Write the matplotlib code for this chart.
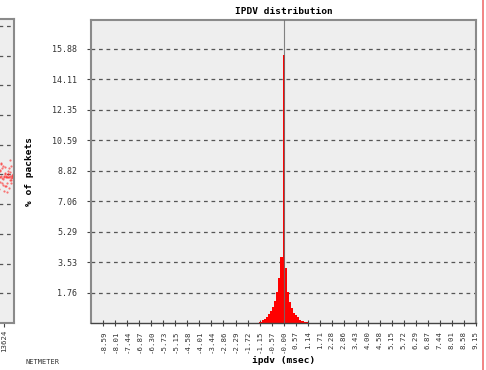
import numpy as np
import matplotlib.pyplot as plt

# histogram of ipdv values (msec) -> % of packets
bin_centers = [-1.1, -1.0, -0.9, -0.8, -0.7, -0.6, -0.5, -0.4, -0.3, -0.2, -0.1, 0.0,
               0.1, 0.2, 0.3, 0.4, 0.5, 0.6, 0.7, 0.8, 0.9, 1.0, 1.1]
pct_packets = [0.05, 0.15, 0.25, 0.35, 0.5, 0.7, 0.95, 1.3, 1.8, 2.6, 3.8, 15.5,
               3.2, 1.8, 1.2, 0.85, 0.6, 0.45, 0.35, 0.2, 0.12, 0.07, 0.03]
bin_width = 0.1

y_ticks = [1.76, 3.53, 5.29, 7.06, 8.82, 10.59, 12.35, 14.11, 15.88]
x_tick_labels = ['-8.59', '-8.01', '-7.44', '-6.87', '-6.30', '-5.73', '-5.15', '-4.58',
                 '-4.01', '-3.44', '-2.86', '-2.29', '-1.72', '-1.15', '-0.57', '-0.00',
                 '0.57', '1.14', '1.71', '2.28', '2.86', '3.43', '4.00', '4.58',
                 '5.15', '5.72', '6.29', '6.87', '7.44', '8.01', '8.58', '9.15']
x_step = 9.15 / 16

# neighbouring panel (only its right edge is visible)
left_x = [13560, 13580, 13600, 13615, 13630, 13650, 13670, 13690, 13705, 13720,
          13570, 13595, 13620, 13640, 13660, 13680, 13700, 13715, 13735, 13590,
          13610, 13635, 13655, 13675, 13695, 13710, 13725, 13585, 13645, 13685,
          13565, 13605, 13625, 13665, 13698, 13730, 13578, 13652, 13690, 13712,
          13575, 13618, 13642, 13668, 13702, 13740, 13598, 13632, 13672, 13722]
left_y = [4.9, 5.1, 4.7, 5.3, 4.9, 4.6, 5.0, 5.2, 4.8, 4.95,
          4.5, 5.4, 4.85, 5.05, 4.4, 4.9, 5.5, 4.7, 5.0, 4.95,
          5.2, 4.6, 4.9, 5.1, 4.8, 5.3, 4.9, 4.75, 5.0, 4.55,
          4.92, 4.88, 4.95, 4.9, 4.93, 4.87, 4.9, 4.96, 4.91, 4.89,
          5.15, 4.65, 5.25, 4.72, 5.08, 4.8, 5.35, 4.45, 5.02, 4.98]

W, H = 486, 370
fig = plt.figure(figsize=(W / 100, H / 100), dpi=100)
fig.patch.set_facecolor('white')

frame_col = '#8a8a8a'
bg_col = '#eeeeee'
mono = 'DejaVu Sans Mono'

def px(x0, y0, x1, y1):
    return [x0 / W, 1 - y1 / H, (x1 - x0) / W, (y1 - y0) / H]

# ---- main IPDV axes ----
ax = fig.add_axes(px(91, 20, 476, 323))
ax.set_facecolor(bg_col)
edges = np.array(bin_centers) - bin_width / 2
edges = np.append(edges, bin_centers[-1] + bin_width / 2)
ax.stairs(pct_packets, edges, fill=True, color='#ff0000', zorder=2)
ax.axvline(0, color='#6e6e6e', lw=0.8, alpha=0.85, zorder=3)

ax.set_xlim(-9.16, 9.15)
ax.set_ylim(0, 17.55)
ax.set_yticks(y_ticks)
ax.set_yticklabels(['%.2f' % v for v in y_ticks], fontsize=6, family=mono, color='#333333')
xt = [-9.15 + (i + 1) * x_step for i in range(len(x_tick_labels))]
ax.set_xticks(xt)
ax.set_xticklabels(x_tick_labels, rotation=90, fontsize=5.3, family=mono, color='#333333')
ax.tick_params(axis='x', direction='inout', length=5, width=0.8, color='#444444', pad=3)
ax.tick_params(axis='y', direction='out', length=3, width=0.8, color='#444444', pad=7)
ax.grid(axis='y', linestyle=(0, (3, 3)), color='#555555', lw=0.9)
ax.set_axisbelow(True)
for s in ax.spines.values():
    s.set_color(frame_col)
    s.set_linewidth(1.5)
ax.spines['bottom'].set_color('#444444')
ax.spines['bottom'].set_linewidth(1.0)

ax.set_title('IPDV distribution', fontsize=6.8, family=mono, weight='bold', pad=4)
ax.set_ylabel('% of packets', fontsize=6.8, family=mono, weight='bold', labelpad=13)
ax.set_xlabel('ipdv (msec)', fontsize=6.8, family=mono, weight='bold', labelpad=2)

# ---- left (cut off) panel ----
axl = fig.add_axes(px(-186, 19, 14, 323))
axl.set_facecolor(bg_col)
axl.scatter(left_x, left_y, s=2.5, color='#ff2020', alpha=0.6, lw=0)
axl.set_xlim(11400, 13745)
axl.set_ylim(0, 10.23)
axl.set_yticks(range(1, 11))
axl.set_yticklabels([])
axl.tick_params(axis='y', length=0)
axl.set_xticks([13624])
axl.set_xticklabels(['13624'], rotation=90, fontsize=5.3, family=mono, color='#333333')
axl.tick_params(axis='x', direction='out', length=3, width=0.8, color='#444444', pad=2)
axl.grid(axis='y', linestyle=(0, (3, 3)), color='#555555', lw=0.9)
axl.set_axisbelow(True)
for s in axl.spines.values():
    s.set_color(frame_col)
    s.set_linewidth(1.5)

fig.text(25 / W, 1 - 362 / H, 'NETMETER', fontsize=5, family=mono, va='center', color='#333333')

# red border line at right
fig.add_artist(plt.Line2D([483 / W, 483 / W], [0, 1], color='#f07070', lw=1.2))

fig.savefig('out.png', dpi=100, facecolor='white')
